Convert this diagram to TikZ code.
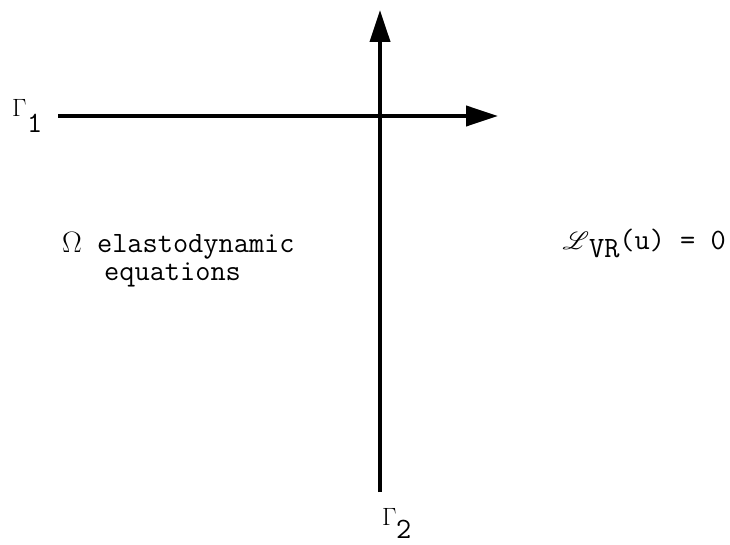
\RequirePackage{fix-cm}
\documentclass[tikz,border=0pt]{standalone}
\usepackage{fontspec}
\usepackage{mathrsfs}
\usetikzlibrary{arrows.meta}
\tikzset{
  axisline/.style={line width=4pt,-{Triangle[length=32pt,width=20pt]}},
  lbl/.style={inner sep=0pt,font=\fontsize{29.5}{33}\selectfont\ttfamily},
  gam/.style={inner sep=0pt,font=\fontsize{25}{28}\selectfont},
}
\begin{document}
\begin{tikzpicture}[x=1pt,y=-1pt]
\useasboundingbox (0,0) rectangle (730,545);
\coordinate (h0) at (58,116);
\coordinate (h1) at (498,116);
\coordinate (v0) at (380,492);
\coordinate (v1) at (380,10);
\draw[axisline] (h0) -- (h1);
\draw[axisline] (v0) -- (v1);
\node[gam,anchor=base west] (g1) at (12,117) {$\Gamma$};
\node[lbl,anchor=base west] (g1s) at (27,133) {1};
\node[gam,anchor=base west] (g2) at (382,525) {$\Gamma$};
\node[lbl,anchor=base west] (g2s) at (396,538) {2};
\node[lbl,anchor=base west] (om) at (62,252) {$\Omega$ elastodynamic};
\node[lbl,anchor=base west] (eq) at (104,280) {equations};
\node[lbl,anchor=base east] (lvr) at (726,250) {{\fontsize{36}{38}\selectfont$\mathscr{L}$}\raisebox{-7pt}{VR}(u) = 0};
\end{tikzpicture}
\end{document}
